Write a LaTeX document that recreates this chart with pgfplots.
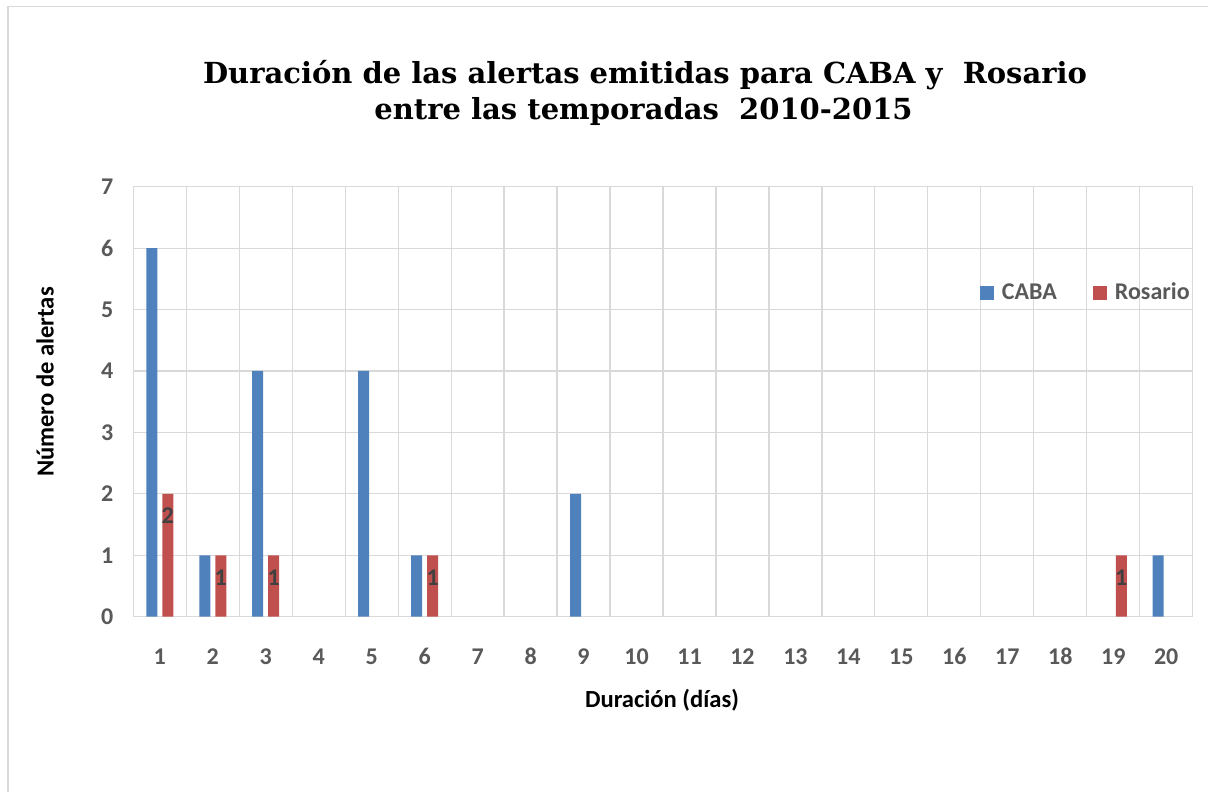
\documentclass[border=0pt]{standalone}
\usepackage{fontspec}
\setmainfont{Carlito}
\newfontfamily\titlefont{DejaVu Serif}
\usepackage{pgfplots}
\pgfplotsset{compat=1.18}

\definecolor{cabablue}{HTML}{4F81BD}
\definecolor{rosred}{HTML}{C0504D}
\definecolor{gridgray}{HTML}{D9D9D9}
\definecolor{tickgray}{HTML}{595959}
\definecolor{lblgray}{HTML}{404040}

\begin{document}
\begin{tikzpicture}[x=1pt,y=1pt]
\useasboundingbox (0,0) rectangle (604,396);
\draw[gridgray, line width=0.7pt] (4,0) -- (4,392.75) -- (604,392.75);
\node[font=\titlefont\bfseries\fontsize{14.5}{18}\selectfont] at (322.5,358.5) {Duración de las alertas emitidas para CABA y\ \ Rosario};
\node[font=\titlefont\bfseries\fontsize{14.5}{18}\selectfont] at (321.75,340) {entre las temporadas\ \ 2010-2015};
\node[font=\bfseries\fontsize{12.3}{14}\selectfont] at (331,46) {Duración (días)};
\node[font=\bfseries\fontsize{12.3}{14}\selectfont, rotate=90] at (22.5,205) {Número de alertas};
\begin{axis}[
  at={(66.65pt,87.65pt)}, anchor=south west, scale only axis,
  width=529.7pt, height=215pt,
  xmin=0.5, xmax=20.5, ymin=0, ymax=7,
  ybar, bar width=5.5pt,
  xtick={1,...,20}, ytick={0,...,7},
  minor xtick={0.5,1.5,...,20.5},
  xminorgrids=true, ymajorgrids=true,
  major tick length=0pt, minor tick length=0pt,
  grid style={gridgray, line width=0.6pt},
  minor grid style={gridgray, line width=0.6pt},
  axis line style={gridgray, line width=0.6pt},
  tick label style={font=\bfseries\fontsize{12}{14}\selectfont, text=tickgray},
  xticklabel style={yshift=-12.5pt, text height=8pt, text depth=0pt},
  yticklabel style={xshift=-6.5pt},
  /pgf/number format/assume math mode=true,
  legend style={at={(axis cs:18.5,5.27)}, anchor=center, draw=none, fill=none,
    font=\bfseries\fontsize{12}{14}\selectfont, text=tickgray,
    /tikz/every even column/.append style={column sep=16pt}},
  legend columns=2,
  legend cell align=left,
]
\addplot+[fill=cabablue, draw=none, bar shift=-4pt,
  legend image code/.code={\fill[cabablue] (0pt,-3.5pt) rectangle (7pt,3.5pt); \path (9pt,0pt);}]
  coordinates {(1,6) (2,1) (3,4) (5,4) (6,1) (9,2) (20,1)};
\addlegendentry{CABA}
\addplot+[fill=rosred, draw=none, bar shift=4pt,
  legend image code/.code={\fill[rosred] (0pt,-3.5pt) rectangle (7pt,3.5pt); \path (9pt,0pt);},
  nodes near coords,
  every node near coord/.append style={anchor=center, yshift=-11pt,
    font=\bfseries\fontsize{12}{14}\selectfont, text=lblgray}]
  coordinates {(1,2) (2,1) (3,1) (6,1) (19,1)};
\addlegendentry{Rosario}
\end{axis}
\end{tikzpicture}
\end{document}
